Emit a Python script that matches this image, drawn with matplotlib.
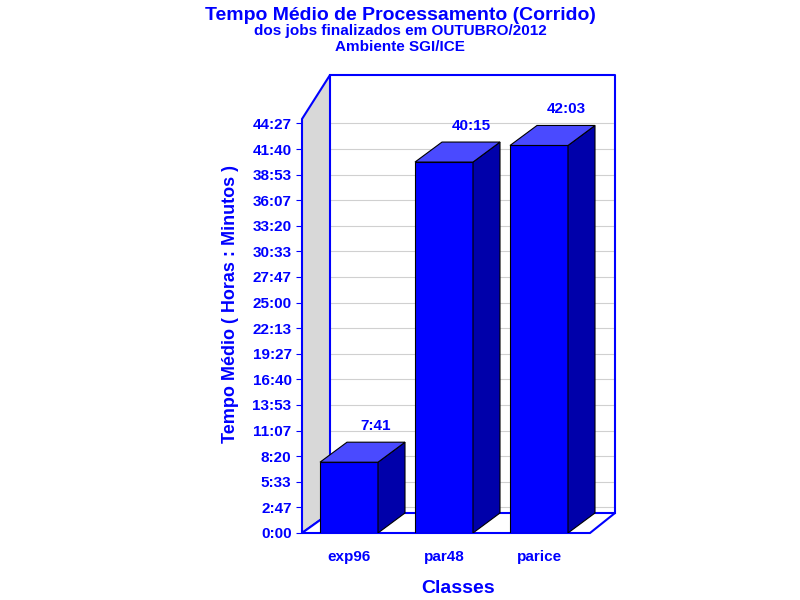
import matplotlib
matplotlib.use("Agg")
from matplotlib import pyplot as plt
from matplotlib.patches import Polygon

plt.rcParams["font.family"] = "Liberation Sans"
plt.rcParams["font.weight"] = "bold"

# data (minutes)
categories = ["exp96", "par48", "parice"]
values = [7 * 60 + 41, 40 * 60 + 15, 42 * 60 + 3]
value_labels = ["7:41", "40:15", "42:03"]
tick_labels = ["0:00", "2:47", "5:33", "8:20", "11:07", "13:53", "16:40", "19:27",
               "22:13", "25:00", "27:47", "30:33", "33:20", "36:07", "38:53",
               "41:40", "44:27"]

BLUE = "#0000FF"
px = 0.1536          # pixels per minute
ymax = 458 / px
dx, dy = 28, 20 / px  # depth offset
width, right = 288, 313

fig = plt.figure(figsize=(8, 6), dpi=100)
ax = fig.add_axes([302 / 800, 67 / 600, 313 / 800, 458 / 600])
ax.set_xlim(0, right)
ax.set_ylim(0, ymax)
for s in ax.spines.values():
    s.set_visible(False)

# left wall, floor, back frame
ax.add_patch(Polygon([(0, 0), (dx, dy), (dx, ymax), (0, ymax - 2.2 * dy)],
                     closed=True, fc="#d8d8d8", ec=BLUE, lw=1.5, clip_on=False))
ax.add_patch(Polygon([(0, 0), (width, 0), (right, dy), (dx, dy)],
                     closed=True, fc="white", ec=BLUE, lw=1.5, clip_on=False))
ax.plot([dx, right, right], [ymax, ymax, dy], color=BLUE, lw=1.5, clip_on=False)
ticks = [i * 500 / 3 for i in range(len(tick_labels))]
for t in ticks[1:]:
    ax.plot([dx, right], [t + dy * 0.0, t + dy * 0.0], color="#d0d0d0", lw=0.8, zorder=0.5)

# bars
xs = [18, 113, 208]
bw, depth = 58, 27
for x, v, lab in zip(xs, values, value_labels):
    ax.add_patch(Polygon([(x, 0), (x + bw, 0), (x + bw, v), (x, v)],
                         fc=BLUE, ec="black", lw=0.8, zorder=3))
    ax.add_patch(Polygon([(x + bw, 0), (x + bw + depth, dy), (x + bw + depth, v + dy), (x + bw, v)],
                         fc="#0000AA", ec="black", lw=0.8, zorder=3))
    ax.add_patch(Polygon([(x, v), (x + bw, v), (x + bw + depth, v + dy), (x + depth, v + dy)],
                         fc="#4A4AFF", ec="black", lw=0.8, zorder=3))
    ax.text(x + bw / 2 + depth, v + dy + 60, lab, ha="center", va="bottom",
            color=BLUE, fontsize=11, fontweight="bold")

ax.set_xticks([x + bw / 2 for x in xs])
ax.set_xticklabels(categories, color=BLUE, fontsize=11)
ax.set_yticks(ticks)
ax.set_yticklabels(tick_labels, color=BLUE, fontsize=11)
ax.tick_params(axis="both", length=4, color=BLUE)
ax.tick_params(axis="x", length=0, pad=12)
ax.set_xlabel("Classes", color=BLUE, fontsize=14, fontweight="bold", labelpad=12)
ax.set_ylabel("Tempo Médio ( Horas : Minutos )", color=BLUE, fontsize=13,
              fontweight="bold", labelpad=10)

fig.text(0.5, 0.975, "Tempo Médio de Processamento (Corrido)", ha="center", va="center",
         color=BLUE, fontsize=14, fontweight="bold")
fig.text(0.5, 0.948, "dos jobs finalizados em OUTUBRO/2012", ha="center", va="center",
         color=BLUE, fontsize=11, fontweight="bold")
fig.text(0.5, 0.922, "Ambiente SGI/ICE", ha="center", va="center",
         color=BLUE, fontsize=11, fontweight="bold")

fig.savefig("out.png")
